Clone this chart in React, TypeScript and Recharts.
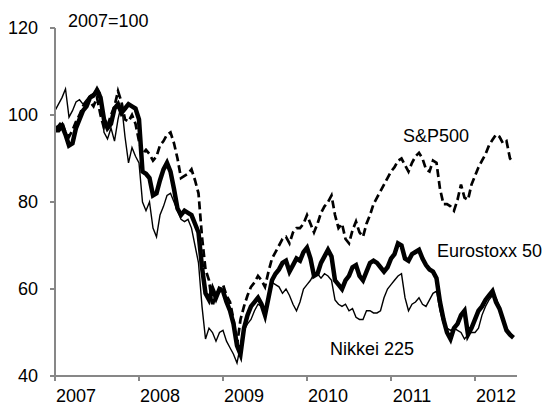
import { Line, LineChart, XAxis, YAxis } from "recharts";

// semi-monthly observations, Jan 2007 .. Jun 2012 (index 0..131)
const years = [2007, 2008, 2009, 2010, 2011, 2012];
const yTicks = [40, 60, 80, 100, 120];

const sp500 = [
  97, 97.5, 98.5, 96, 95, 96.5, 98.5, 100, 102, 103, 103, 102, 104, 100, 97, 97.5, 100, 102, 105.5, 103, 99, 98.5, 100, 98,
  94, 91, 92, 91, 89.5, 90.5, 93, 94, 95.5, 96, 93.5, 90, 85.5, 86, 86.5, 87.5, 85, 82, 72, 64.5, 62, 56, 59, 59.5,
  61, 58.5, 57, 53, 47, 53, 56, 58.5, 60.5, 61.5, 63, 62, 60.5, 64, 67, 68.5, 70, 71.5, 72, 70.5, 73, 74, 74, 75,
  77, 75, 73, 75, 77.5, 79, 80, 81.5, 77, 74, 75, 71.5, 70.5, 73.5, 75.5, 73, 72, 75, 77, 79.5, 81, 82.5, 84, 85.5,
  87, 88, 89.5, 90, 88.5, 87, 89, 90.5, 91.3, 90, 87.5, 87, 89.5, 89, 83, 79.5, 79.5, 79, 78, 80.5, 84, 81, 80.5, 84,
  86, 88, 89.5, 91, 93, 94.3, 95.5, 95, 93.5, 94, 90, 89,
];

const eurostoxx = [
  96.5, 96.5, 97.5, 95.5, 93, 93.5, 97, 99, 101, 102, 104, 104.5, 105.5, 104, 99, 97, 98, 101.5, 102.5, 100.5, 101.5, 102.5, 102, 101.5,
  99, 87, 86.5, 85.5, 81.5, 82, 85, 87.5, 89, 87, 83, 78.5, 77, 78, 77.5, 77, 75, 73, 65, 59, 57.5, 60, 58, 60,
  59.5, 57, 55, 52, 47, 45, 51, 54, 56, 57, 58, 56.5, 54, 58, 62, 63.5, 64.5, 66, 66.5, 64, 65.5, 67, 66.5, 68.5,
  69.5, 67, 63, 63.5, 66, 67.5, 69, 67.5, 62, 61, 60, 62, 63, 65, 65.5, 63, 62, 64, 66, 66.5, 66, 65, 64, 65,
  67, 68, 70.5, 70, 67, 66.5, 68, 68.5, 69, 67, 65.5, 64.5, 64, 62.5, 57, 53, 50, 48.5, 51, 52, 54, 55, 49.5, 51,
  53, 55, 56, 57.5, 58.5, 59.5, 57, 55.5, 53, 50.5, 49.5, 48.8,
];

const nikkei = [
  101, 102.5, 104, 106, 99.5, 101, 103, 103.5, 102.5, 103.5, 104.5, 105, 106.5, 105, 96, 94.5, 97, 94, 99, 102.5, 95, 89, 92.5, 90.5,
  89, 80, 78, 80, 74, 72, 77, 79, 81.5, 82, 80, 78, 76, 75.5, 76, 74, 70, 66, 56, 48.5, 51, 50, 48, 50,
  50.5, 48, 46.5, 45, 43, 47, 50.5, 52, 53, 55, 56.5, 56, 55, 58, 61.5, 61, 60.5, 59, 60, 58.5, 56.5, 55, 57, 60,
  61, 62, 63.5, 63.5, 62.5, 63.5, 63, 62, 57.5, 56.5, 56, 56.5, 55, 55.5, 53.5, 53, 53, 55, 55, 54.5, 54.5, 55, 58, 60,
  61, 62, 63, 63.5, 58, 55, 56.5, 57, 58, 56.5, 56, 57.5, 59, 59.5, 55, 52, 51, 50.5, 51, 50.5, 50, 48.5, 49.5, 50,
  50, 51, 54, 56, 57.5, 58.5, 58, 56, 53, 51, 50, 49,
];

const data = sp500.map((v, i) => ({ i, sp: v, eu: eurostoxx[i], nk: nikkei[i] }));

const font = "'Liberation Sans', Arial, sans-serif";
const axisColor = "#878787";

function YearTick(props: any) {
  const { x, y, payload } = props;
  return (
    <text x={x + 21} y={y} dy={19} textAnchor="middle" fontSize={18} fontFamily={font} fill="#000">
      {2007 + payload.value / 24}
    </text>
  );
}

export default function App() {
  return (
    <div style={{ position: "absolute", left: 0, top: 0, width: 545, height: 407, background: "#fff" }}>
      <LineChart width={545} height={407} data={data} margin={{ top: 28, right: 28, bottom: 0, left: 0 }}>
        <XAxis
          type="number"
          dataKey="i"
          domain={[0, 132]}
          ticks={years.map((_, k) => k * 24)}
          height={31}
          stroke={axisColor}
          strokeWidth={2}
          tickSize={5}
          tick={<YearTick />}
        />
        <YAxis
          domain={[40, 120]}
          ticks={yTicks}
          width={55}
          stroke={axisColor}
          strokeWidth={2}
          tickSize={5}
          tickMargin={12}
          tick={{ fill: "#000", fontSize: 18, fontFamily: font }}
        />
        <Line dataKey="nk" stroke="#000" strokeWidth={1.4} dot={false} isAnimationActive={false} />
        <Line dataKey="sp" stroke="#000" strokeWidth={2.7} strokeDasharray="8 4" dot={false} isAnimationActive={false} />
        <Line dataKey="eu" stroke="#000" strokeWidth={4.5} dot={false} isAnimationActive={false} />
      </LineChart>
      <svg width={545} height={407} style={{ position: "absolute", left: 0, top: 0, pointerEvents: "none" }}>
        <g fontFamily={font} fontSize={18} fill="#000">
          <text x={68} y={27}>2007=100</text>
          <text x={403} y={142}>S&amp;P500</text>
          <text x={437} y={257}>Eurostoxx 50</text>
          <text x={330} y={355}>Nikkei 225</text>
        </g>
      </svg>
    </div>
  );
}
